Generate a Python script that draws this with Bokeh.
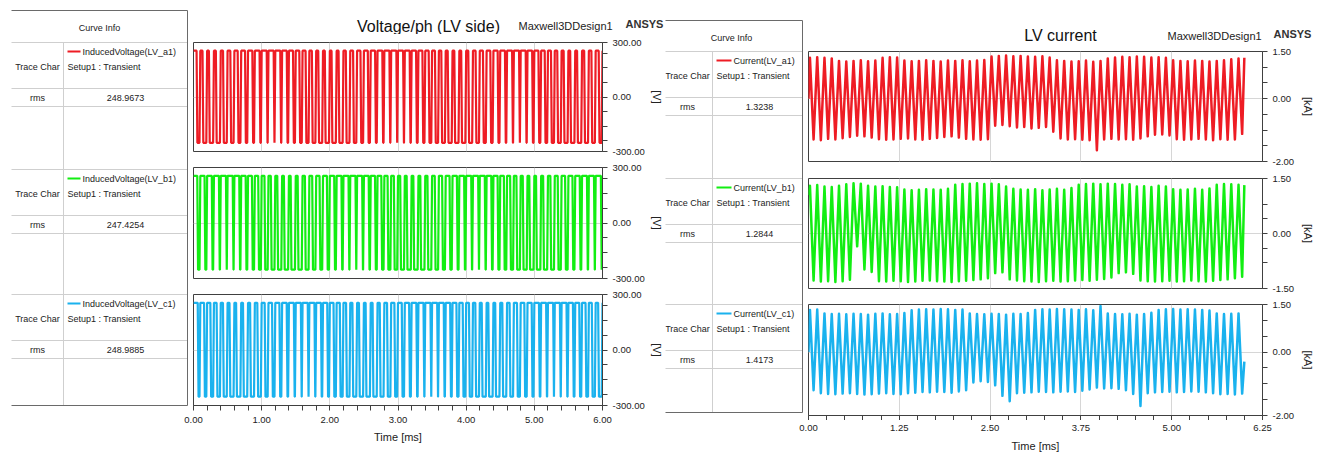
import numpy as np
from bokeh.plotting import figure
from bokeh.models import Range1d, FixedTicker, NumeralTickFormatter, Grid
from bokeh.layouts import row, column
from bokeh.embed import file_html
from bokeh.resources import INLINE
from bokeh.core.properties import value

FONT = "Liberation Sans"

# ---------------- data ----------------
cycle_ms = 0.1                      # one switching cycle
volt_top, volt_bottom = 255.0, -252.0
volt_names = ["InducedVoltage(LV_a1)", "InducedVoltage(LV_b1)", "InducedVoltage(LV_c1)"]
volt_rms = ["248.9673", "247.4254", "248.9885"]
cur_names = ["Current(LV_a1)", "Current(LV_b1)", "Current(LV_c1)"]
cur_rms = ["1.3238", "1.2844", "1.4173"]
setup_label = "Setup1 : Transient"
colors = ["#ee1c24", "#12ee12", "#1ab2ee"]

# fraction of each cycle spent at the positive plateau
va_duty = [0.45, 0.32, 0.26, 0.28, 0.33, 0.40, 0.48, 0.56, 0.63, 0.69,
           0.74, 0.76, 0.73, 0.68, 0.60, 0.52, 0.44, 0.36, 0.30, 0.26,
           0.25, 0.28, 0.34, 0.41, 0.49, 0.57, 0.64, 0.70, 0.74, 0.76,
           0.75, 0.71, 0.65, 0.58, 0.50, 0.42, 0.35, 0.29, 0.26, 0.27,
           0.31, 0.38, 0.46, 0.54, 0.62, 0.69, 0.74, 0.76, 0.73, 0.68,
           0.60, 0.52, 0.44, 0.36, 0.30, 0.26, 0.27, 0.31, 0.37, 0.44]
vb_duty = [0.55, 0.62, 0.68, 0.73, 0.76, 0.75, 0.71, 0.65, 0.57, 0.49,
           0.41, 0.34, 0.29, 0.26, 0.25, 0.28, 0.34, 0.41, 0.49, 0.57,
           0.64, 0.70, 0.74, 0.76, 0.74, 0.70, 0.63, 0.55, 0.47, 0.39,
           0.32, 0.27, 0.25, 0.27, 0.32, 0.39, 0.47, 0.56, 0.64, 0.70,
           0.74, 0.76, 0.73, 0.68, 0.61, 0.53, 0.45, 0.37, 0.30, 0.26,
           0.25, 0.29, 0.35, 0.43, 0.51, 0.59, 0.66, 0.72, 0.75, 0.76]
vc_duty = [0.62, 0.55, 0.47, 0.39, 0.32, 0.28, 0.25, 0.26, 0.30, 0.36,
           0.44, 0.52, 0.60, 0.67, 0.72, 0.75, 0.76, 0.74, 0.69, 0.62,
           0.54, 0.46, 0.38, 0.31, 0.27, 0.25, 0.27, 0.32, 0.39, 0.47,
           0.55, 0.63, 0.69, 0.74, 0.76, 0.75, 0.71, 0.65, 0.57, 0.49,
           0.41, 0.34, 0.28, 0.25, 0.26, 0.30, 0.37, 0.45, 0.53, 0.61,
           0.68, 0.73, 0.76, 0.75, 0.72, 0.66, 0.59, 0.51, 0.43, 0.36]

# per-cycle current peaks / troughs [kA]
ia_max = [1.30, 1.32, 1.30, 1.28, 1.20, 1.18, 1.20, 1.22, 1.19, 1.21,
          1.30, 1.32, 1.31, 1.21, 1.19, 1.20, 1.22, 1.20, 1.18, 1.21,
          1.20, 1.22, 1.19, 1.21, 1.23, 1.34, 1.36, 1.37, 1.35, 1.36,
          1.34, 1.33, 1.35, 1.31, 1.22, 1.20, 1.18, 1.19, 1.21, 1.17,
          1.20, 1.28, 1.31, 1.33, 1.32, 1.34, 1.33, 1.31, 1.32, 1.30,
          1.22, 1.20, 1.19, 1.21, 1.20, 1.18, 1.20, 1.22, 1.25, 1.28]
ia_min = [-1.30, -1.32, -1.28, -1.30, -1.26, -1.22, -1.18, -1.20, -1.24, -1.29,
          -1.31, -1.30, -1.28, -1.27, -1.30, -1.31, -1.28, -1.25, -1.22, -1.20,
          -1.24, -1.28, -1.30, -1.31, -1.29, -0.86, -0.84, -0.88, -0.92, -0.90,
          -0.95, -0.93, -0.90, -1.05, -1.27, -1.30, -1.29, -1.31, -1.32, -1.64,
          -1.30, -1.28, -1.30, -1.29, -1.31, -1.27, -1.20, -1.15, -1.14, -1.17,
          -1.29, -1.31, -1.30, -1.28, -1.30, -1.32, -1.29, -1.31, -1.30, -1.12]
ib_max = [1.30, 1.32, 1.28, 1.27, 1.30, 1.34, 1.37, 1.36, 1.30, 1.28,
          1.29, 1.27, 1.26, 1.20, 1.18, 1.19, 1.21, 1.20, 1.19, 1.22,
          1.33, 1.35, 1.36, 1.37, 1.35, 1.36, 1.34, 1.28, 1.22, 1.20,
          1.19, 1.21, 1.18, 1.20, 1.22, 1.19, 1.24, 1.33, 1.35, 1.36,
          1.34, 1.36, 1.35, 1.33, 1.34, 1.28, 1.29, 1.27, 1.30, 1.28,
          1.21, 1.19, 1.20, 1.22, 1.19, 1.23, 1.33, 1.35, 1.34, 1.33]
ib_min = [-1.28, -1.31, -1.30, -1.32, -1.30, -1.26, -0.35, -0.98, -1.05, -1.30,
          -1.31, -1.29, -1.30, -1.32, -1.31, -1.29, -1.28, -1.30, -1.31, -1.32,
          -1.30, -1.29, -1.27, -1.25, -1.22, -1.08, -1.06, -1.25, -1.28, -1.30,
          -1.31, -1.32, -1.30, -1.29, -1.31, -1.30, -1.28, -1.27, -1.29, -1.26,
          -1.24, -1.20, -1.08, -1.06, -1.10, -1.28, -1.30, -1.31, -1.30, -1.29,
          -1.31, -1.30, -1.28, -1.30, -1.31, -1.29, -1.27, -1.25, -1.22, -1.18]
ic_max = [1.33, 1.34, 1.22, 1.20, 1.21, 1.19, 1.21, 1.20, 1.18, 1.21,
          1.22, 1.19, 1.20, 1.23, 1.32, 1.34, 1.35, 1.34, 1.36, 1.35,
          1.33, 1.34, 1.22, 1.20, 1.19, 1.21, 1.20, 1.18, 1.21, 1.20,
          1.23, 1.33, 1.35, 1.34, 1.36, 1.35, 1.34, 1.33, 1.35, 1.32,
          1.45, 1.22, 1.20, 1.19, 1.21, 1.18, 1.20, 1.24, 1.33, 1.35,
          1.36, 1.34, 1.35, 1.34, 1.33, 1.31, 1.22, 1.20, 1.21, 1.22]
ic_min = [-1.20, -1.30, -1.32, -1.33, -1.31, -1.30, -1.32, -1.34, -1.33, -1.31,
          -1.30, -1.32, -1.33, -1.30, -1.28, -1.26, -1.27, -1.25, -1.26, -1.28,
          -1.24, -1.20, -0.96, -0.92, -0.94, -1.05, -1.38, -1.55, -1.30, -1.28,
          -1.27, -1.25, -1.26, -1.27, -1.25, -1.24, -1.26, -1.22, -1.18, -1.12,
          -1.15, -1.14, -1.16, -1.20, -1.32, -1.70, -1.30, -1.27, -1.26, -1.25,
          -1.27, -1.26, -1.24, -1.25, -1.27, -1.30, -1.33, -1.32, -1.34, -1.31]
cur_start = [0.0, 1.05, 0.0]
cur_end = [1.30, 1.32, -0.30]

volt_xticks = [0, 1, 2, 3, 4, 5, 6]
volt_xminor = [0.2, 0.4, 0.6, 0.8, 1.2, 1.4, 1.6, 1.8, 2.2, 2.4, 2.6, 2.8, 3.2, 3.4, 3.6, 3.8,
               4.2, 4.4, 4.6, 4.8, 5.2, 5.4, 5.6, 5.8]
cur_xticks = [0, 1.25, 2.5, 3.75, 5.0, 6.25]
cur_xminor = [0.25, 0.5, 0.75, 1.0, 1.5, 1.75, 2.0, 2.25, 2.75, 3.0, 3.25, 3.5,
              4.0, 4.25, 4.5, 4.75, 5.25, 5.5, 5.75, 6.0]
volt_yticks = [-300, 0, 300]
volt_yminor = [-240, -160, -80, 80, 160, 240]
cur_yticks_a = [-2.0, 0.0, 1.5]
cur_yminor_a = [-1.5, -1.0, -0.5, 0.5, 1.0]
cur_yticks_b = [-1.5, 0.0, 1.5]
cur_yminor_b = [-0.8, -0.4, 0.4, 0.8]

# ---------------- helpers ----------------
EDGE = 0.012


def square_wave(duty):
    xs, ys = [], []
    for i, d in enumerate(duty):
        t0 = i * cycle_ms
        xs += [t0, t0 + d * cycle_ms, t0 + d * cycle_ms + EDGE, t0 + cycle_ms - EDGE]
        ys += [volt_top, volt_top, volt_bottom, volt_bottom]
    xs.append(len(duty) * cycle_ms)
    ys.append(volt_top)
    return xs, ys


def current_wave(mx, mn, start, end):
    xs, ys = [0.0], [start]
    for i in range(len(mx)):
        t0 = i * cycle_ms
        xs += [t0 + 0.02, t0 + 0.07]
        ys += [mx[i], mn[i]]
    xs.append(len(mx) * cycle_ms)
    ys.append(end)
    return xs, ys


def style_axis(ax):
    ax.axis_line_color = "#404040"
    ax.major_tick_line_color = "#404040"
    ax.minor_tick_line_color = "#404040"
    ax.major_tick_out = 5
    ax.major_tick_in = 0
    ax.minor_tick_out = 5
    ax.minor_tick_in = 0
    ax.major_label_text_font = FONT
    ax.major_label_text_font_size = "9.5px"
    ax.major_label_text_color = "#222222"
    ax.axis_label_text_font = FONT
    ax.axis_label_text_font_size = "11px"
    ax.axis_label_text_font_style = "normal"
    ax.axis_label_text_color = "#222222"


def base_fig(**kw):
    return figure(output_backend="svg", toolbar_location=None, frame_align=False, **kw)


def wave_fig(w, h, xr, yr, yticks, yminor, xticks, xminor, ylabel, bl, br, bt, bb, show_x,
             lab_std):
    p = base_fig(width=w, height=h, x_range=xr, y_range=yr, y_axis_location="right",
                 x_axis_location=("below" if show_x else None),
                 min_border_left=bl, min_border_right=br, min_border_top=bt,
                 min_border_bottom=bb)
    p.grid.visible = False
    p.add_layout(Grid(dimension=0, ticker=FixedTicker(ticks=xticks[1:-1]),
                      grid_line_color="#d6d6d6"))
    p.add_layout(Grid(dimension=1, ticker=FixedTicker(ticks=[0]), grid_line_color="#d6d6d6"))
    p.outline_line_color = "#404040"
    p.background_fill_color = "white"
    ya = p.yaxis[0]
    ya.ticker = FixedTicker(ticks=yticks, minor_ticks=yminor)
    ya.formatter = NumeralTickFormatter(format="0.00")
    ya.axis_label = ylabel
    style_axis(ya)
    ya.major_label_standoff = 5
    ya.axis_label_standoff = lab_std
    if show_x:
        # tick marks only: the labels are drawn by the axis strip below
        xa = p.xaxis[0]
        xa.ticker = FixedTicker(ticks=[], minor_ticks=sorted(list(xticks) + list(xminor)))
        style_axis(xa)
    return p


def xaxis_fig(w, h, xr, xticks, bl, br, label, lab_std, title_std, title_size):
    p = base_fig(width=w, height=h, x_range=xr, y_range=Range1d(0, 1),
                 y_axis_location=None, x_axis_location="below",
                 min_border_left=bl, min_border_right=br, min_border_top=0,
                 min_border_bottom=h - 1)
    p.grid.visible = False
    p.outline_line_color = None
    xa = p.xaxis[0]
    xa.ticker = FixedTicker(ticks=xticks)
    xa.formatter = NumeralTickFormatter(format="0.00")
    style_axis(xa)
    xa.axis_line_color = None
    xa.major_tick_line_color = None
    xa.minor_tick_line_color = None
    xa.major_tick_out = 0
    xa.minor_tick_out = 0
    xa.major_label_standoff = lab_std
    xa.axis_label = label
    xa.axis_label_standoff = title_std
    xa.axis_label_text_font_size = title_size
    return p


def pixel_fig(x0, x1, y0, y1):
    p = base_fig(width=x1 - x0, height=y1 - y0, x_range=Range1d(x0, x1),
                 y_range=Range1d(y1, y0), x_axis_location=None, y_axis_location=None,
                 min_border_left=0, min_border_right=0, min_border_top=0, min_border_bottom=0)
    p.grid.visible = False
    p.outline_line_color = None
    return p


def txt(p, x, y, s, size="9px", align="left", bold=False, color="#222222"):
    p.text(x=[x], y=[y], text=[s], text_font=value(FONT), text_font_size=size,
           text_align=align, text_baseline="middle", text_color=color,
           text_font_style=("bold" if bold else "normal"))


def draw_table(p, g, names, rms):
    inner, outer = "#cfcfcf", "#6a6a6a"
    ys = [g["yhead"]]
    for b in g["blocks"]:
        ys += [b, b + 46, b + 64]
    for y in sorted(set(ys)):
        p.segment(x0=[g["xl"]], y0=[y], x1=[g["xr"]], y1=[y], line_color=inner, line_width=1)
    p.segment(x0=[g["xdiv"]], y0=[g["yhead"]], x1=[g["xdiv"]], y1=[g["ybot"]],
              line_color=inner, line_width=1)
    p.segment(x0=[g["xl"], g["xr"], g["xl"]], y0=[g["ytop"], g["ytop"], g["ybot"]],
              x1=[g["xr"], g["xr"], g["xr"]], y1=[g["ytop"], g["ybot"], g["ybot"]],
              line_color=outer, line_width=1)
    txt(p, g["title_x"], g["title_y"], "Curve Info", align="center")
    for b, n, r, c in zip(g["blocks"], names, rms, colors):
        p.segment(x0=[g["leg0"]], y0=[b + 9], x1=[g["leg1"]], y1=[b + 9], line_color=c, line_width=2)
        txt(p, g["leg1"] + 2, b + 9, n)
        txt(p, g["leg0"], b + 24, setup_label)
        txt(p, g["col1"], b + 24, "Trace Char", align="center")
        txt(p, g["col1"], b + 55, "rms", align="center")
        txt(p, g["valx"], b + 55, r, align="center")


# ---------------- left half : voltages ----------------
xr_v = Range1d(0, 6)
tab_L = pixel_fig(0, 190, 0, 411)
draw_table(tab_L, dict(xl=11, xr=187, xdiv=63, ytop=10, yhead=42, ybot=405,
                       blocks=[42, 169, 294], title_x=99, title_y=27, col1=37,
                       leg0=67, leg1=80, valx=125), volt_names, volt_rms)

head_L = pixel_fig(190, 665, 0, 34)
txt(head_L, 428, 26, "Voltage/ph (LV side)", size="16px", align="center", color="#111111")
txt(head_L, 518, 25, "Maxwell3DDesign1", size="11px", color="#222222")
txt(head_L, 625, 23, "ANSYS", size="11px", bold=True, color="#333333")

vfigs = []
specs_v = [(125, 8, 8, False), (127, 8, 8, False), (125, 8, 6, True)]
for duty, c, (h, bt, bb, sx) in zip([va_duty, vb_duty, vc_duty], colors, specs_v):
    p = wave_fig(475, h, xr_v, Range1d(-300, 300), volt_yticks, volt_yminor,
                 volt_xticks, volt_xminor, "[V]", 3, 63, bt, bb, sx, 3)
    xs, ys = square_wave(duty)
    p.line(xs, ys, line_width=2.2, line_color=c)
    vfigs.append(p)

ax_L = xaxis_fig(665, 45, xr_v, volt_xticks, 193, 63, "Time [ms]", 4, 5, "11px")
left = column(row(tab_L, column(head_L, *vfigs)), ax_L)

# ---------------- right half : currents ----------------
xr_c = Range1d(0, 6.25)
tab_R = pixel_fig(665, 805, 0, 420)
draw_table(tab_R, dict(xl=663, xr=802, xdiv=712, ytop=20, yhead=51, ybot=412,
                       blocks=[51, 178, 304], title_x=731, title_y=37, col1=687,
                       leg0=716, leg1=731, valx=759), cur_names, cur_rms)

head_R = pixel_fig(805, 1322, 0, 43)
txt(head_R, 1060, 35, "LV current", size="16px", align="center", color="#111111")
txt(head_R, 1167, 35, "Maxwell3DDesign1", size="11px", color="#222222")
txt(head_R, 1273, 33, "ANSYS", size="11px", bold=True, color="#333333")

cfigs = []
specs_c = [(127, 8, 9, False, (-2.0, 1.5), cur_yticks_a, cur_yminor_a),
           (126, 8, 8, False, (-1.5, 1.5), cur_yticks_b, cur_yminor_b),
           (124, 8, 5, True, (-2.0, 1.5), cur_yticks_a, cur_yminor_a)]
cur_data = [(ia_max, ia_min), (ib_max, ib_min), (ic_max, ic_min)]
for k, ((mx, mn), c, (h, bt, bb, sx, yr, yt, ym)) in enumerate(zip(cur_data, colors, specs_c)):
    p = wave_fig(517, h, xr_c, Range1d(*yr), yt, ym, cur_xticks, cur_xminor, "[kA]",
                 3, 60, bt, bb, sx, 5)
    xs, ys = current_wave(mx, mn, cur_start[k], cur_end[k])
    p.line(xs, ys, line_width=2.5, line_color=c, line_join="round")
    cfigs.append(p)

ax_R = xaxis_fig(657, 36, xr_c, cur_xticks, 143, 60, "Time [ms]", 3, 6, "11px")
right = column(row(tab_R, column(head_R, *cfigs)), ax_R)

root = row(left, right)
open("out.html", "w").write(file_html(root, INLINE))
